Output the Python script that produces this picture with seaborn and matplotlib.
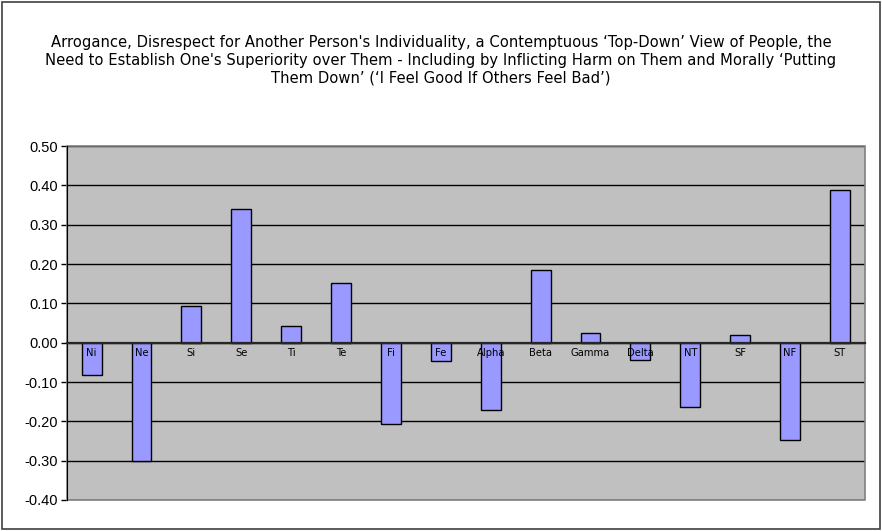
import matplotlib
matplotlib.use("Agg")
import matplotlib.pyplot as plt
from matplotlib.patches import Rectangle
from matplotlib.ticker import MultipleLocator, FixedLocator
import seaborn as sns
import pandas as pd

# данные
categories = ["Ni", "Ne", "Si", "Se", "Ti", "Te", "Fi", "Fe",
              "Alpha", "Beta", "Gamma", "Delta", "NT", "SF", "NF", "ST"]
values = [-0.083, -0.300, 0.092, 0.339, 0.042, 0.151, -0.208, -0.047,
          -0.172, 0.186, 0.024, -0.045, -0.164, 0.019, -0.248, 0.387]

title = ("Arrogance, Disrespect for Another Person's Individuality, a Contemptuous \u2018Top-Down\u2019 View of People, the\n"
         "Need to Establish One's Superiority over Them - Including by Inflicting Harm on Them and Morally \u2018Putting\n"
         "Them Down\u2019 (\u2018I Feel Good If Others Feel Bad\u2019)")

df = pd.DataFrame({"cat": categories, "val": values})

sns.set_style("white")
plt.rcParams["font.family"] = ["DejaVu Sans"]
plt.rcParams["text.color"] = "black"
plt.rcParams["xtick.color"] = "black"
plt.rcParams["ytick.color"] = "black"

fig = plt.figure(figsize=(8.82, 5.31), dpi=100)
ax = fig.add_axes([0.0756, 0.0584, 0.905, 0.6666])
ax.set_facecolor("#C0C0C0")

sns.barplot(data=df, x="cat", y="val", color="#9999FF", edgecolor="black",
            linewidth=1.0, width=0.4, saturation=1, ax=ax, zorder=3)

ax.set_ylim(-0.40, 0.50)
ax.set_xlim(-0.5, len(categories) - 0.5)
ax.yaxis.set_major_locator(MultipleLocator(0.1))
ax.yaxis.set_major_formatter(plt.FuncFormatter(lambda v, p: f"{v:.2f}"))
ax.yaxis.grid(True, color="black", linewidth=1.0, zorder=1)
ax.set_axisbelow(True)
ax.set_xlabel("")
ax.set_ylabel("")

# ось категорий на нуле
ax.spines["bottom"].set_position(("data", 0))
ax.spines["bottom"].set_linewidth(1.6)
ax.spines["bottom"].set_zorder(4)
ax.spines["top"].set_visible(False)
ax.spines["right"].set_visible(False)
ax.spines["left"].set_color("black")
ax.spines["left"].set_zorder(4)
ax.add_patch(Rectangle((0, 0), 1, 1, transform=ax.transAxes, fill=False,
                       edgecolor="#808080", linewidth=1.2, zorder=2, clip_on=False))

ax.tick_params(axis="x", which="major", length=0, labelsize=7.2, pad=4)
ax.xaxis.set_minor_locator(FixedLocator([i + 0.5 for i in range(len(categories) - 1)]))
ax.tick_params(axis="x", which="minor", length=4, width=1, direction="out")
ax.tick_params(axis="y", which="major", length=4, width=1, direction="out",
               labelsize=10.5, pad=2, left=True)
ax.xaxis.set_zorder(5)
for lab in ax.get_yticklabels():
    lab.set_family("Liberation Sans")

fig.text(0.5, 0.887, title, ha="center", va="center", fontsize=10.6, linespacing=1.22)

# рамка вокруг картинки
fig.patches.append(Rectangle((0.002, 0.003), 0.996, 0.994, transform=fig.transFigure,
                             fill=False, edgecolor="#404040", linewidth=1.2))

fig.savefig("out.png", dpi=100)
